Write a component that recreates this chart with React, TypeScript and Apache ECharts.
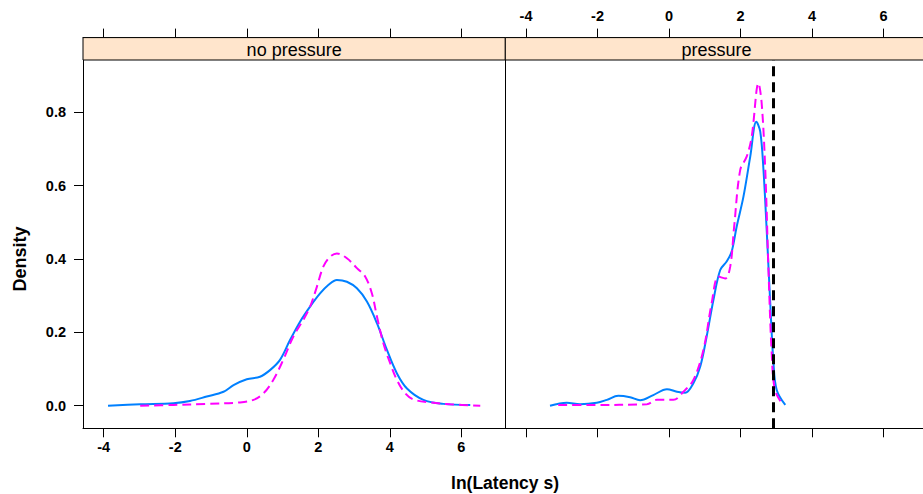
import React, { useEffect, useRef } from "react";
import * as echarts from "echarts";

// Panels and ticks
const panels = ["no pressure", "pressure"];
const xTicks = [-4, -2, 0, 2, 4, 6];
const yTicks = [0, 0.2, 0.4, 0.6, 0.8];
const xRange = [-4.58, 7.23];
const yRange = [-0.0616, 0.9425];

// Density curves: [ln(latency), density]
const noPressureBlue: number[][] = [
  [-3.88, 0], [-2.98, 0.004], [-2.05, 0.007], [-1.59, 0.013], [-1.12, 0.025],
  [-0.65, 0.038], [-0.37, 0.056], [0, 0.072], [0.37, 0.079], [0.65, 0.097],
  [0.93, 0.125], [1.21, 0.179], [1.49, 0.229], [1.77, 0.27], [2.05, 0.306],
  [2.28, 0.329], [2.52, 0.343], [2.8, 0.338], [3.08, 0.32], [3.36, 0.284],
  [3.64, 0.225], [3.92, 0.152], [4.2, 0.088], [4.48, 0.047], [4.94, 0.016],
  [5.5, 0.005], [6.25, 0.002],
];
const noPressureMagenta: number[][] = [
  [-2.98, 0.0], [-2.05, 0.002], [-1.12, 0.005], [-0.19, 0.009], [0.19, 0.016],
  [0.47, 0.034], [0.74, 0.07], [1.02, 0.125], [1.3, 0.188], [1.58, 0.234],
  [1.77, 0.27], [1.96, 0.324], [2.14, 0.379], [2.33, 0.406], [2.52, 0.415],
  [2.8, 0.402], [3.08, 0.375], [3.31, 0.352], [3.5, 0.306], [3.64, 0.243],
  [3.82, 0.17], [4.01, 0.116], [4.2, 0.07], [4.43, 0.034], [4.66, 0.017],
  [5.13, 0.009], [5.69, 0.004], [6.53, 0.0],
];
const pressureBlue: number[][] = [
  [-3.33, 0], [-2.86, 0.008], [-2.49, 0.004], [-2.02, 0.008], [-1.74, 0.016],
  [-1.42, 0.027], [-1.09, 0.023], [-0.81, 0.015], [-0.44, 0.029], [-0.06, 0.045],
  [0.22, 0.038], [0.45, 0.035], [0.68, 0.061], [0.87, 0.106], [1.05, 0.188],
  [1.24, 0.288], [1.43, 0.37], [1.61, 0.393], [1.75, 0.42], [1.89, 0.488],
  [2.08, 0.57], [2.27, 0.679], [2.44, 0.774], [2.55, 0.747], [2.64, 0.643],
  [2.73, 0.479], [2.83, 0.279], [2.92, 0.116], [3.01, 0.043], [3.25, 0.002],
];
const pressureMagenta: number[][] = [
  [-3.1, 0.002], [-2.26, 0.002], [-0.62, 0.004], [-0.34, 0.016], [0.12, 0.016],
  [0.4, 0.038], [0.68, 0.07], [0.96, 0.152], [1.19, 0.279], [1.38, 0.352],
  [1.57, 0.347], [1.71, 0.379], [1.82, 0.488], [1.99, 0.643], [2.17, 0.679],
  [2.31, 0.733], [2.5, 0.879], [2.59, 0.824], [2.69, 0.643], [2.78, 0.37],
  [2.87, 0.143], [2.96, 0.043], [3.15, 0.007],
];
const pressureCutoff = 2.91;

const BLUE = "#0080ff";
const MAGENTA = "#ff00ff";
const FONT = "Liberation Sans, Arial, sans-serif";

export default function App() {
  const ref = useRef<HTMLDivElement>(null);
  useEffect(() => {
    if (!ref.current) return;
    const chart = echarts.init(ref.current, null, { renderer: "svg" });
    const L = 83;
    const W = 422.3;
    const T = 60;
    const H = 368.3;
    const ST = 37.6;
    const SH = T - ST;

    const grids = [
      { left: L, top: T, width: W, height: H },
      { left: L + W, top: T, width: W, height: H },
      { left: L, top: ST, width: W, height: SH },
      { left: L + W, top: ST, width: W, height: SH },
    ].map((g) => ({ ...g, outerBoundsMode: "none", containLabel: false, show: false }));

    const lineBlack = { show: true, lineStyle: { color: "#000", width: 1 } };
    const mkX = (gi: number, pos: string, labels: boolean, margin: number) => ({
      type: "value",
      gridIndex: gi,
      position: pos,
      min: xRange[0],
      max: xRange[1],
      axisLine: { ...lineBlack, onZero: false },
      axisTick: { show: true, inside: false, length: 9, customValues: xTicks, lineStyle: { color: "#000" } },
      axisLabel: {
        show: labels,
        customValues: xTicks,
        margin,
        fontFamily: FONT,
        fontSize: 14.5,
        fontWeight: "bold",
        color: "#000",
      },
      splitLine: { show: false },
    });
    const mkY = (gi: number, axisShow: boolean, ticks: boolean) => ({
      type: "value",
      gridIndex: gi,
      min: yRange[0],
      max: yRange[1],
      show: axisShow,
      axisLine: { ...lineBlack, onZero: false },
      axisTick: { show: ticks, inside: false, length: 9, customValues: yTicks, lineStyle: { color: "#000" } },
      axisLabel: {
        show: ticks,
        customValues: yTicks,
        margin: 17,
        formatter: (v: number) => v.toFixed(1),
        fontFamily: FONT,
        fontSize: 14.5,
        fontWeight: "bold",
        color: "#000",
      },
      splitLine: { show: false },
    });

    const line = (data: number[][], gi: number, color: string, dashed: boolean, z: number) => ({
      type: "line",
      xAxisIndex: gi,
      yAxisIndex: gi,
      data,
      smooth: 0.35,
      showSymbol: false,
      symbol: "none",
      z,
      lineStyle: { color, width: 2, type: dashed ? [9, 5] : "solid" },
    });

    const stripRects = panels.map((name, i) => ({
      type: "group",
      children: [
        {
          type: "rect",
          shape: { x: L + i * W, y: ST, width: W, height: SH },
          style: { fill: "#ffe5cc", stroke: "#000", lineWidth: 1 },
          z: 10,
        },
        {
          type: "text",
          x: L + i * W + W / 2,
          y: ST + SH / 2 + 1,
          style: {
            text: name,
            fontFamily: FONT,
            fontSize: 18,
            fill: "#000",
            textAlign: "center",
            textVerticalAlign: "middle",
          },
          z: 11,
        },
      ],
    }));

    chart.setOption({
      animation: false,
      backgroundColor: "#fff",
      grid: grids,
      xAxis: [
        mkX(0, "bottom", true, 11),
        mkX(1, "bottom", false, 11),
        mkX(2, "top", false, 14),
        mkX(3, "top", true, 14),
      ],
      yAxis: [mkY(0, true, true), mkY(1, true, false), mkY(2, false, false), mkY(3, false, false)],
      series: [
        line(noPressureBlue, 0, BLUE, false, 2),
        line(noPressureMagenta, 0, MAGENTA, true, 3),
        {
          ...line(pressureBlue, 1, BLUE, false, 2),
          markLine: {
            silent: true,
            symbol: "none",
            label: { show: false },
            lineStyle: { color: "#000", width: 3, type: [10, 6] },
            data: [{ xAxis: pressureCutoff }],
          },
        },
        line(pressureMagenta, 1, MAGENTA, true, 3),
      ],
      graphic: [
        ...stripRects,
        {
          type: "text",
          x: 20,
          y: 259,
          rotation: Math.PI / 2,
          style: {
            text: "Density",
            fontFamily: FONT,
            fontSize: 18,
            fontWeight: "bold",
            fill: "#000",
            textAlign: "center",
            textVerticalAlign: "middle",
          },
        },
        {
          type: "text",
          x: 505,
          y: 483,
          style: {
            text: "ln(Latency s)",
            fontFamily: FONT,
            fontSize: 17.5,
            fontWeight: "bold",
            fill: "#000",
            textAlign: "center",
            textVerticalAlign: "middle",
          },
        },
      ],
    });
    return () => chart.dispose();
  }, []);
  return (
    <div
      ref={ref}
      style={{ position: "absolute", left: 0, top: 0, width: 923, height: 494, background: "#fff" }}
    />
  );
}
